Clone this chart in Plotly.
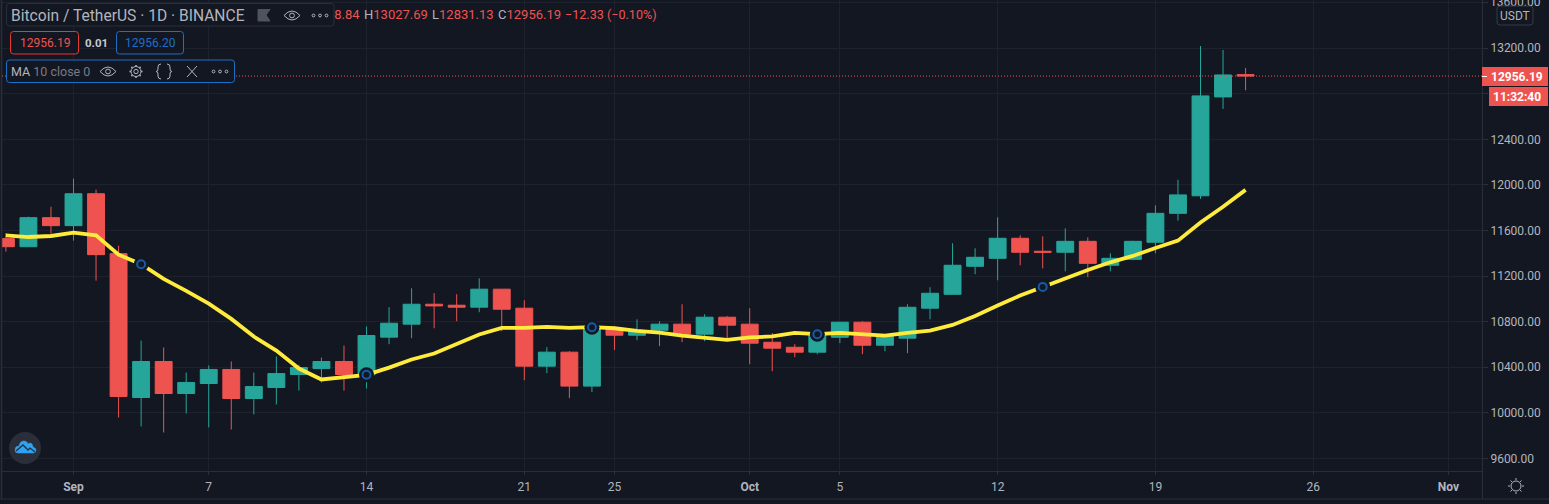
import pandas as pd
import plotly.graph_objects as go

W, H = 1549, 504

# daily candles, Aug 29 - Oct 23 2020
dates = pd.date_range("2020-08-29", "2020-10-23").strftime("%Y-%m-%d").tolist()
opens = [11529, 11458, 11713, 11643, 11923, 11397, 10134, 10450, 10169, 10257, 10380, 10125, 10222, 10336,
         10388, 10450, 10333, 10664, 10778, 10953, 10944, 10927, 11085, 10918, 10409, 10532, 10234, 10737,
         10681, 10725, 10778, 10690, 10839, 10778, 10619, 10575, 10532, 10663, 10795, 10593, 10655, 10918,
         11040, 11286, 11356, 11532, 11418, 11409, 11505, 11295, 11347, 11497, 11751, 11905, 12773, 12968.84]
highs = [11578, 11722, 11809, 12055, 11959, 11467, 10634, 10573, 10353, 10415, 10450, 10353, 10494, 10420,
         10485, 10590, 10757, 10927, 11093, 11050, 11041, 11181, 11085, 10988, 10576, 10541, 10760, 10760,
         10821, 10804, 10953, 10865, 10848, 10918, 10700, 10602, 10700, 10795, 10804, 10690, 10953, 11102,
         11488, 11444, 11716, 11558, 11549, 11619, 11540, 11400, 11510, 11821, 12045, 13220, 13185, 13027.69]
lows = [11415, 11458, 11573, 11511, 11160, 9959, 9880, 9827, 9994, 9871, 9853, 9985, 10073, 10195,
        10266, 10195, 10213, 10602, 10655, 10742, 10804, 10883, 10716, 10286, 10348, 10128, 10181, 10550,
        10637, 10585, 10620, 10628, 10650, 10427, 10365, 10488, 10514, 10611, 10514, 10540, 10523, 10821,
        11040, 11216, 11163, 11295, 11268, 11242, 11190, 11242, 11339, 11400, 11686, 11878, 12668, 12831.13]
closes = [11458, 11713, 11643, 11923, 11388, 10143, 10450, 10169, 10266, 10380, 10125, 10230, 10344, 10397,
          10450, 10336, 10678, 10786, 10953, 10938, 10927, 11085, 10909, 10409, 10532, 10234, 10737, 10681,
          10720, 10778, 10690, 10839, 10769, 10611, 10567, 10532, 10680, 10795, 10593, 10680, 10926, 11049,
          11295, 11365, 11532, 11409, 11409, 11505, 11312, 11356, 11505, 11751, 11913, 12782, 12966, 12956.19]
ma10 = [11558, 11543, 11552, 11581, 11558, 11388, 11304, 11175, 11070, 10958, 10824, 10669, 10546, 10388,
        10292, 10312, 10333, 10396, 10468, 10520, 10599, 10687, 10745, 10745, 10754, 10745, 10751, 10742,
        10719, 10704, 10678, 10655, 10640, 10661, 10670, 10701, 10690, 10701, 10687, 10678, 10701, 10722,
        10771, 10850, 10941, 11029, 11105, 11181, 11254, 11321, 11377, 11447, 11511, 11670, 11808, 11957]
ma_flags = ["2020-09-04", "2020-09-14", "2020-09-24", "2020-10-04", "2020-10-14"]

x_ticks = ["2020-09-01", "2020-09-07", "2020-09-14", "2020-09-21", "2020-09-25", "2020-10-01",
           "2020-10-05", "2020-10-12", "2020-10-19", "2020-10-26", "2020-11-01"]
x_labels = ["<b>Sep</b>", "7", "14", "21", "25", "<b>Oct</b>", "5", "12", "19", "26", "<b>Nov</b>"]
y_ticks = [9600, 10000, 10400, 10800, 11200, 11600, 12000, 12400, 12800, 13200, 13600]

title = "Bitcoin / TetherUS · 1D · BINANCE"
bid, spread, ask = "12956.19", "0.01", "12956.20"
countdown = "11:32:40"
change = "−12.33 (−0.10%)"

BG = "#131722"
GRID = "#1e222d"
AXIS = "#2a2e39"
TXT = "#b2b5be"
UP = "#26a69a"
DOWN = "#ef5350"
BLUE = "#1e6fc8"
FONT = "Roboto"

# time scale: Sep 1 sits at x=73.5px, 22.54px per day, plot runs 2..1482px
sep1 = pd.Timestamp("2020-09-01")
x_start = sep1 + pd.Timedelta(days=(2 - 73.5) / 22.54)
x_end = sep1 + pd.Timedelta(days=(1482 - 73.5) / 22.54)

fig = go.Figure()
fig.add_trace(go.Candlestick(
    x=dates, open=opens, high=highs, low=lows, close=closes, whiskerwidth=0,
    increasing=dict(line=dict(color=UP, width=1), fillcolor=UP),
    decreasing=dict(line=dict(color=DOWN, width=1), fillcolor=DOWN),
    hoverinfo="skip", showlegend=False))
fig.add_trace(go.Scatter(x=dates, y=ma10, mode="lines", line=dict(color="#ffeb3b", width=3.8),
                         hoverinfo="skip", showlegend=False))
flag_y = [ma10[dates.index(d)] for d in ma_flags]
fig.add_trace(go.Scatter(x=ma_flags, y=flag_y, mode="markers", marker=dict(size=15, color=BG),
                         hoverinfo="skip", showlegend=False))
fig.add_trace(go.Scatter(x=ma_flags, y=flag_y, mode="markers",
                         marker=dict(size=8, color=BG, line=dict(color="#145aa6", width=2)),
                         hoverinfo="skip", showlegend=False))

# OHLC row and the clipped top price sit under boxes, so they have to be traces and not annotations
ohlc = [f"<span style='color:{TXT}'>O</span>{opens[-1]:.2f}",
        f"<span style='color:{TXT}'>H</span>{highs[-1]:.2f}",
        f"<span style='color:{TXT}'>L</span>{lows[-1]:.2f}",
        f"<span style='color:{TXT}'>C</span>{closes[-1]:.2f}",
        change]
fig.add_trace(go.Scatter(x=[296, 364, 432, 498, 565], y=[15.5] * 5, mode="text", text=ohlc,
                         textposition="middle right",
                         textfont=dict(family=FONT, size=[13, 13, 13, 13, 12.6], color=DOWN),
                         xaxis="x2", yaxis="y2", cliponaxis=False, hoverinfo="skip", showlegend=False))
fig.add_trace(go.Scatter(x=[1490], y=[3], mode="text", text=[f"{y_ticks[-1]:.2f}"], textposition="middle right",
                         textfont=dict(family=FONT, size=12, color=TXT),
                         xaxis="x2", yaxis="y2", cliponaxis=False, hoverinfo="skip", showlegend=False))

shapes = []
annotations = []


def line(x0, y0, x1, y1, color, width=1, dash="solid"):
    shapes.append(dict(type="line", xref="x2", yref="y2", x0=x0, y0=y0, x1=x1, y1=y1,
                       line=dict(color=color, width=width, dash=dash)))


def path(d, color, width=1.2, fill="rgba(0,0,0,0)"):
    shapes.append(dict(type="path", xref="x2", yref="y2", path=d, fillcolor=fill,
                       line=dict(color=color, width=width)))


def circle(cx, cy, r, color, width=1.2, fill="rgba(0,0,0,0)"):
    shapes.append(dict(type="circle", xref="x2", yref="y2", x0=cx - r, x1=cx + r, y0=cy - r, y1=cy + r,
                       fillcolor=fill, line=dict(color=color, width=width)))


def rbox(x0, y0, x1, y1, color, fill=BG, r=3, width=1):
    path(f"M{x0 + r},{y0} L{x1 - r},{y0} Q{x1},{y0} {x1},{y0 + r} L{x1},{y1 - r} Q{x1},{y1} {x1 - r},{y1} "
         f"L{x0 + r},{y1} Q{x0},{y1} {x0},{y1 - r} L{x0},{y0 + r} Q{x0},{y0} {x0 + r},{y0} Z",
         color, width, fill)


def label(x, y, text, color=TXT, size=12, anchor="left"):
    annotations.append(dict(xref="x2", yref="y2", x=x, y=y, text=text, showarrow=False, xanchor=anchor,
                            yanchor="middle", font=dict(family=FONT, size=size, color=color),
                            borderpad=0, borderwidth=0))


def eye(cx, cy, color=TXT):
    path(f"M{cx - 8},{cy} Q{cx},{cy - 9} {cx + 8},{cy} Q{cx},{cy + 9} {cx - 8},{cy} Z", color, 1)
    circle(cx, cy, 2.4, color, 1)


def dots(cx, cy, color=TXT):
    for dx in (-6.5, 0, 6.5):
        circle(cx + dx, cy, 1.4, color, 1)


# frame
line(1.5, 0, 1.5, 499, AXIS, 1.5)
line(0, 499, W, 499, AXIS, 1)
line(1482.5, 471, 1482.5, 499, AXIS, 1)

# last price line, from the last close
shapes.append(dict(type="line", xref="x", yref="y", x0=x_start, x1=x_end, y0=closes[-1], y1=closes[-1],
                   line=dict(color=DOWN, width=1, dash="1px,2px")))

# legend rows
rbox(6.5, 3.5, 334, 26, AXIS)
label(11, 15.5, title, TXT, 15.6)
path("M258,9.5 L270,9.5 L266,15 L270,21 L258,21 Z", "#50535e", 1, "#50535e")
eye(292, 15.5)
dots(320, 15.5)

rbox(10.5, 31.5, 78.5, 54, "#e53935")
label(44.5, 43, bid, DOWN, 12, "center")
label(96.5, 43, f"<b>{spread}</b>", "#c8cad0", 11.5, "center")
rbox(116.5, 31.5, 183.5, 54, BLUE)
label(150, 43, ask, BLUE, 12, "center")

rbox(6.5, 60, 234.5, 82.5, BLUE)
label(11, 71.5, f"<span style='color:{TXT}'>MA</span> 10 close 0", "#787b86", 12.5)
eye(108, 71.5)
circle(136, 71.5, 5, TXT, 1)
circle(136, 71.5, 2.2, TXT, 1)
for dx, dy in [(0, 6.5), (0, -6.5), (6.5, 0), (-6.5, 0), (4.6, 4.6), (-4.6, 4.6), (4.6, -4.6), (-4.6, -4.6)]:
    line(136 + dx * 0.77, 71.5 + dy * 0.77, 136 + dx, 71.5 + dy, TXT, 1.5)
path("M161,64 Q158,64 158,67 L158,69 Q158,71.5 156,71.5 Q158,71.5 158,74 L158,76 Q158,79 161,79", TXT, 1)
path("M167,64 Q170,64 170,67 L170,69 Q170,71.5 172,71.5 Q170,71.5 170,74 L170,76 Q170,79 167,79", TXT, 1)
line(187, 66, 197, 77, TXT)
line(197, 66, 187, 77, TXT)
dots(220, 71.5)

# logo
circle(25, 448, 16, "#2a2e39", 0, "#2a2e39")
path("M15,450 Q15,446 19,446 Q20,441 24,441 Q27,441 28,444 Q30,442 32,444 Q33,446 33,447 Q36,448 36,450 Q36,453 33,453 "
     "L18,453 Q15,453 15,450 Z", "#2ea3f2", 0.5, "#2ea3f2")
path("M16,451 L23,445 L28,450 L30,448 L35,452", "#2a2e39", 1.3)

# right side tags and settings
rbox(1497, 6, 1533, 25, "#363a45")
label(1515, 15.5, "USDT", TXT, 12, "center")
shapes.append(dict(type="rect", xref="x2", yref="y2", x0=1482, x1=1548, y0=67, y1=86, fillcolor=DOWN, line_width=0))
line(1482, 76.5, 1487, 76.5, "#ffffff")
label(1491, 76.5, f"<b>{closes[-1]:.2f}</b>", "#ffffff", 12)
shapes.append(dict(type="rect", xref="x2", yref="y2", x0=1489, x1=1548, y0=87, y1=106, fillcolor=DOWN, line_width=0))
label(1493, 96.5, f"<b>{countdown}</b>", "#ffffff", 12)
circle(1516, 486, 5, TXT, 1)
for x0, y0, x1, y1 in [(1516, 478, 1516, 480), (1516, 492, 1516, 494), (1508, 486, 1510, 486), (1522, 486, 1524, 486),
                       (1510.5, 480.5, 1512, 482), (1520, 490, 1521.5, 491.5), (1520, 482, 1521.5, 480.5), (1510.5, 491.5, 1512, 490)]:
    line(x0, y0, x1, y1, TXT, 1)

fig.update_layout(
    width=W, height=H, margin=dict(l=0, r=0, t=0, b=0),
    paper_bgcolor=BG, plot_bgcolor="rgba(0,0,0,0)", boxgap=0.25, boxgroupgap=0, showlegend=False, hovermode=False,
    font=dict(family=FONT, size=12, color=TXT),
    shapes=shapes, annotations=annotations,
    xaxis=dict(type="date", domain=[2 / W, 1482 / W], range=[x_start, x_end], rangeslider=dict(visible=False),
               tickmode="array", tickvals=x_ticks, ticktext=x_labels, showgrid=True, gridcolor=GRID, gridwidth=1,
               zeroline=False, showline=True, linecolor=AXIS, ticks="outside", ticklen=3, tickcolor=AXIS,
               ticklabelstandoff=1, tickfont=dict(family=FONT, size=12, color=TXT), anchor="y", fixedrange=True),
    yaxis=dict(domain=[1 - 471.3 / H, 1], range=[9486, 13624], side="right", anchor="x", tickmode="array",
               tickvals=y_ticks, ticktext=[f"{v:.2f}" for v in y_ticks], showgrid=True, gridcolor=GRID, gridwidth=1,
               zeroline=False, showline=True, linecolor=AXIS, ticks="outside", ticklen=5, tickcolor=AXIS,
               tickfont=dict(family=FONT, size=12, color=TXT), fixedrange=True),
    xaxis2=dict(domain=[0, 1], range=[0, W], visible=False, anchor="y2", fixedrange=True),
    yaxis2=dict(domain=[0, 1], range=[H, 0], visible=False, anchor="x2", fixedrange=True),
)

fig.write_html("out.html", config=dict(displayModeBar=False),
               post_script="document.body.style.margin='0';document.body.style.overflow='hidden';"
                           "document.body.style.background='%s';" % BG)
